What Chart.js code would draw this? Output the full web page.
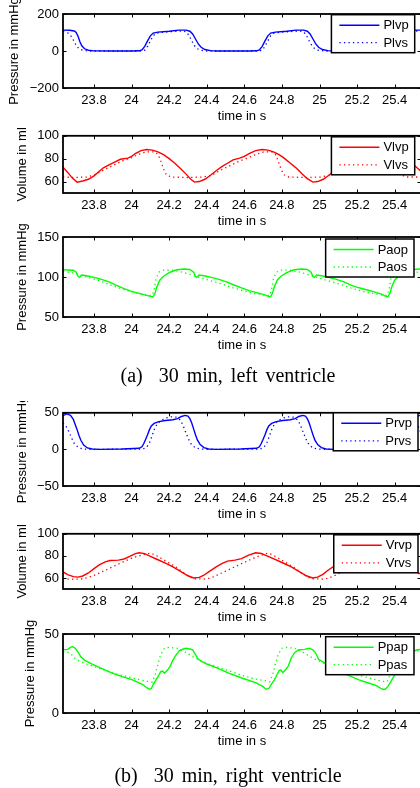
<!DOCTYPE html>
<html>
<head>
<meta charset="utf-8">
<script src="https://cdn.jsdelivr.net/npm/chart.js@4"></script>
<style>
  html, body { margin: 0; padding: 0; background: #fff; }
  body { width: 420px; height: 788px; overflow: hidden; position: relative; }
  canvas { position: absolute; left: 0; }
  .cap { position: absolute; left: 0; width: 456px; text-align: center;
         font-family: "Liberation Serif", "Times New Roman", serif; font-size: 20px;
         word-spacing: 3px; color: #000; line-height: 22px; }
</style>
</head>
<body>
<canvas id="c1"></canvas>
<canvas id="c2"></canvas>
<canvas id="c3"></canvas>
<div class="cap" style="top:364px">(a)&nbsp; 30 min, left ventricle</div>
<canvas id="c4"></canvas>
<canvas id="c5"></canvas>
<canvas id="c6"></canvas>
<div class="cap" style="top:764px">(b)&nbsp; 30 min, right ventricle</div>
<script>
// time axis (s)
var xTicks = [23.8, 24, 24.2, 24.4, 24.6, 24.8, 25, 25.2, 25.4];
var xTickLabels = ['23.8', '24', '24.2', '24.4', '24.6', '24.8', '25', '25.2', '25.4'];

// y ticks per panel
var plvTicks = [-200, 0, 200];
var vlvTicks = [60, 80, 100];
var paoTicks = [50, 100, 150];
var prvTicks = [-50, 0, 50];
var vrvTicks = [60, 80, 100];
var ppaTicks = [0, 50];

// left ventricle pressure [t, mmHg]
var plvp = [[23.635,113],[23.67,112],[23.695,108],[23.705,100],[23.715,80],[23.725,50],[23.735,28],[23.75,12],[23.77,4],[23.80,0.5],[23.90,0],[24.00,0],[24.04,1],[24.055,6],[24.07,25],[24.085,55],[24.10,82],[24.115,97],[24.14,102],[24.20,107],[24.25,113],[24.29,113],[24.31,107],[24.325,92],[24.34,65],[24.355,38],[24.37,20],[24.39,8],[24.42,2],[24.45,0],
  [24.55,0],[24.625,0],[24.665,1],[24.68,6],[24.695,25],[24.71,55],[24.725,82],[24.74,97],[24.765,102],[24.825,107],[24.875,113],[24.915,113],[24.935,107],[24.95,92],[24.965,65],[24.98,38],[24.995,20],[25.015,8],[25.045,2],[25.075,0],
  [25.2,0],[25.25,0],[25.29,1],[25.305,6],[25.32,25],[25.335,55],[25.35,82],[25.365,97],[25.39,102],[25.45,107],[25.50,113],[25.54,113]];
var plvs = [[23.635,105],[23.66,98],[23.675,85],[23.69,60],[23.705,30],[23.72,12],[23.74,4],[23.77,0],[24.05,0],[24.07,5],[24.085,25],[24.10,55],[24.115,82],[24.13,96],[24.16,101],[24.22,105],[24.27,108],[24.29,104],[24.305,85],[24.32,55],[24.335,28],[24.35,12],[24.37,4],[24.40,0],
  [24.675,0],[24.695,5],[24.71,25],[24.725,55],[24.74,82],[24.755,96],[24.785,101],[24.845,105],[24.895,108],[24.915,104],[24.93,85],[24.945,55],[24.96,28],[24.975,12],[24.995,4],[25.025,0],
  [25.30,0],[25.32,5],[25.335,25],[25.35,55],[25.365,82],[25.38,96],[25.41,101],[25.47,105],[25.52,108],[25.54,104]];

// left ventricle volume [t, ml]
var vlvp = [[23.635,72.5],[23.66,68],[23.685,63],[23.71,59.5],[23.74,60.5],[23.77,62],[23.80,65],[23.825,68.5],[23.85,72],[23.88,74.5],[23.91,77],[23.94,79.5],[23.98,80.5],[24.0,82],[24.02,84.5],[24.05,87],[24.08,88],[24.11,87.5],[24.14,86],[24.17,83.5],[24.20,80],[24.23,76],[24.26,71.5],[24.29,66.5],[24.315,62],[24.335,59.5],
  [24.36,60],[24.39,62],[24.42,65.5],[24.45,69.5],[24.48,73],[24.51,76],[24.54,79],[24.575,80.5],[24.60,82],[24.625,84.5],[24.66,87],[24.695,88],[24.725,87.5],[24.755,86],[24.785,83.5],[24.815,80],[24.845,76],[24.875,72],[24.905,67],[24.935,62.5],[24.965,59.5],
  [24.99,60],[25.02,62],[25.05,65.5],[25.08,69.5],[25.11,73],[25.14,76],[25.17,79],[25.205,80.5],[25.23,82],[25.255,84.5],[25.29,87],[25.325,88],[25.355,87.5],[25.385,86],[25.415,83.5],[25.445,80],[25.475,77],[25.505,74],[25.54,69]];
var vlvs = [[23.635,64],[23.70,63.5],[23.76,64],[23.80,65.5],[23.85,70],[23.90,74],[23.95,78],[24.00,81],[24.04,84],[24.08,86],[24.12,86],[24.14,84],[24.155,78],[24.17,71],[24.185,66],[24.21,64],[24.30,63.5],
  [24.38,64],[24.425,65.5],[24.475,70],[24.525,74],[24.575,78],[24.625,81],[24.665,84],[24.705,86],[24.745,86],[24.765,84],[24.78,78],[24.795,71],[24.81,66],[24.835,64],[24.925,63.5],
  [25.005,64],[25.05,65.5],[25.10,70],[25.15,74],[25.20,78],[25.25,81],[25.29,84],[25.33,86],[25.37,86],[25.39,84],[25.405,78],[25.42,71],[25.435,66],[25.46,64],[25.54,64]];

// aortic pressure [t, mmHg]
var paop = [[23.635,109],[23.69,108.5],[23.705,106],[23.715,101],[23.722,99.5],[23.735,102.5],[23.76,101.5],[23.80,99.5],[23.84,97],[23.88,94],[23.92,89.5],[23.96,85.5],[24.00,82],[24.04,79.5],[24.08,77],[24.105,75.5],[24.115,75.5],[24.125,80],[24.135,88],[24.15,96],[24.17,101],[24.20,105.5],[24.24,109],[24.28,110],[24.31,109.5],[24.33,106],[24.34,100.5],[24.347,99.5],
  [24.36,102.5],[24.385,101.5],[24.425,99.5],[24.465,97],[24.505,94],[24.545,90],[24.585,86.5],[24.625,83],[24.665,80.5],[24.705,78],[24.73,75.5],[24.74,75.5],[24.75,80],[24.76,88],[24.775,96],[24.795,101],[24.825,105.5],[24.865,109],[24.905,110],[24.935,109.5],[24.955,106],[24.965,100.5],[24.972,99.5],
  [24.985,102.5],[25.01,101.5],[25.05,99.5],[25.09,97],[25.13,94],[25.17,89.5],[25.21,86.5],[25.25,84],[25.29,81.5],[25.33,78.5],[25.355,75.5],[25.365,75.5],[25.375,80],[25.385,88],[25.40,96],[25.42,101],[25.45,105.5],[25.49,109],[25.53,110],[25.54,110]];
var paos = [[23.635,107],[23.69,105],[23.72,103],[23.76,100],[23.80,97.5],[23.85,93.5],[23.90,89],[23.95,85],[24.00,81.5],[24.05,78.5],[24.09,77],[24.11,77],[24.12,84],[24.13,98],[24.145,106],[24.17,108.5],[24.22,108.5],[24.27,106],[24.30,104],
  [24.34,101],[24.39,97.5],[24.44,94],[24.49,90.5],[24.54,86.5],[24.59,83],[24.64,80],[24.69,78],[24.72,77],[24.735,77],[24.745,84],[24.755,98],[24.77,106],[24.795,108.5],[24.845,108.5],[24.895,106],[24.925,104],
  [24.965,101],[25.015,97.5],[25.065,94],[25.115,90.5],[25.165,86.5],[25.215,83],[25.265,80],[25.315,78],[25.345,77],[25.36,77],[25.37,84],[25.38,98],[25.395,106],[25.42,108.5],[25.47,108.5],[25.52,106],[25.54,105]];

// right ventricle pressure [t, mmHg]
var prvp = [[23.635,46],[23.655,48.5],[23.675,46.5],[23.69,41],[23.70,34],[23.71,27],[23.72,19],[23.73,12.5],[23.745,6],[23.765,2],[23.79,0.5],[23.83,0],[23.95,0.5],[24.04,1.5],[24.055,3.5],[24.065,8],[24.075,14],[24.085,20],[24.095,27],[24.105,32],[24.12,35.5],[24.145,38],[24.18,39.5],[24.22,40.5],[24.245,42],[24.265,45],[24.285,46.5],[24.30,45.5],[24.31,42],[24.32,36],[24.33,28],[24.34,20],[24.35,13],[24.365,6.5],[24.385,2.5],[24.41,0.5],[24.45,0],
  [24.58,0.5],[24.665,1.5],[24.68,3.5],[24.69,8],[24.70,14],[24.71,20],[24.72,27],[24.73,32],[24.745,35.5],[24.77,38],[24.805,39.5],[24.845,40.5],[24.87,42],[24.89,45],[24.91,46.5],[24.925,45.5],[24.935,42],[24.945,36],[24.955,28],[24.965,20],[24.975,13],[24.99,6.5],[25.01,2.5],[25.035,0.5],[25.075,0],
  [25.205,0.5],[25.29,1.5],[25.305,3.5],[25.315,8],[25.325,14],[25.335,20],[25.345,27],[25.355,32],[25.37,35.5],[25.395,38],[25.43,39.5],[25.47,40.5],[25.495,42],[25.515,45],[25.535,46.5],[25.54,46.5]];
var prvs = [[23.635,36],[23.65,32],[23.665,25],[23.68,16],[23.695,8],[23.715,3],[23.74,0.5],[23.78,0],[24.06,0.5],[24.08,3],[24.095,9],[24.105,16],[24.115,23],[24.125,30],[24.14,36],[24.16,40],[24.185,43],[24.21,44.5],[24.24,44],[24.26,40],[24.275,32],[24.29,22],[24.305,13],[24.32,6],[24.34,2],[24.365,0.5],[24.40,0],
  [24.685,0.5],[24.705,3],[24.72,9],[24.73,16],[24.74,23],[24.75,30],[24.765,36],[24.785,40],[24.81,43],[24.835,44.5],[24.865,44],[24.885,40],[24.90,32],[24.915,22],[24.93,13],[24.945,6],[24.965,2],[24.99,0.5],[25.025,0],
  [25.31,0.5],[25.33,3],[25.345,9],[25.355,16],[25.365,23],[25.375,30],[25.39,36],[25.41,40],[25.435,43],[25.46,44.5],[25.49,44],[25.51,40],[25.525,32],[25.54,22]];

// right ventricle volume [t, ml]
var vrvp = [[23.635,65.5],[23.66,63],[23.69,61.2],[23.715,60.8],[23.74,61.8],[23.77,64.5],[23.80,68.5],[23.83,72],[23.86,74.5],[23.885,75.8],[23.93,76.2],[23.96,77.2],[23.99,79.5],[24.02,82],[24.04,82.8],[24.07,82],[24.10,79.5],[24.14,76.5],[24.18,73.5],[24.22,70],[24.26,66],[24.30,62],[24.33,60],
  [24.36,60.5],[24.385,62.5],[24.41,65.5],[24.45,70],[24.48,73],[24.51,75.2],[24.55,76.2],[24.585,77.5],[24.62,80.5],[24.66,82.8],[24.69,82.2],[24.72,80],[24.76,77],[24.80,74],[24.85,70],[24.89,66],[24.93,62],[24.963,60],
  [24.99,60.8],[25.02,63.5],[25.045,67],[25.08,71],[25.11,74],[25.14,75.8],[25.18,76.2],[25.21,77.5],[25.25,80.5],[25.29,82.8],[25.32,82.2],[25.35,80],[25.39,77],[25.43,74],[25.48,69.5],[25.52,65],[25.54,63.5]];
var vrvs = [[23.635,59.5],[23.66,59],[23.73,59],[23.77,60.5],[23.81,63],[23.86,67],[23.91,71],[23.96,75],[24.01,78.5],[24.06,81],[24.10,82.5],[24.125,81],[24.15,78.5],[24.185,75],[24.24,69.5],[24.29,63],[24.33,59.2],[24.40,59],
  [24.435,61],[24.48,64.5],[24.53,68.5],[24.58,72.5],[24.63,76.5],[24.68,80],[24.725,82.5],[24.75,81],[24.775,78.5],[24.81,75],[24.865,69.5],[24.915,63],[24.955,59.2],[25.03,59],
  [25.065,61],[25.11,64.5],[25.16,68.5],[25.21,72.5],[25.26,76.5],[25.31,80],[25.355,82.5],[25.38,81],[25.405,78.5],[25.44,75],[25.495,69.5],[25.54,62]];

// pulmonary artery pressure [t, mmHg]
var ppap = [[23.635,40],[23.66,40.3],[23.675,41.5],[23.685,42],[23.70,41],[23.715,38.5],[23.73,35.5],[23.75,33.5],[23.79,31],[23.84,28.3],[23.90,25.1],[23.95,23],[24.005,21],[24.06,18],[24.08,16],[24.095,15],[24.105,15.5],[24.115,18],[24.13,21],[24.145,24],[24.155,26.2],[24.165,26.5],[24.175,25.2],[24.19,27],[24.205,29.5],[24.22,33.5],[24.235,36.5],[24.255,39.5],[24.275,40.5],[24.29,41],[24.31,40.5],[24.325,40],[24.34,37],[24.355,34],
  [24.375,32.5],[24.40,31],[24.45,28.7],[24.52,25.1],[24.59,22],[24.66,19.2],[24.70,16.7],[24.715,15],[24.73,15.5],[24.745,18.5],[24.76,21],[24.775,24.5],[24.786,27],[24.795,27.2],[24.805,25.5],[24.82,27.5],[24.835,30],[24.85,35],[24.87,38.5],[24.89,40],[24.92,40.3],[24.945,41],[24.965,40],[24.98,37.8],[24.995,34],
  [25.015,32.5],[25.05,30],[25.105,26.5],[25.16,23.5],[25.21,21],[25.26,19],[25.30,17.5],[25.335,15],[25.35,15],[25.365,17],[25.38,20],[25.395,23],[25.41,26],[25.42,27.5],[25.43,26.5],[25.445,28],[25.46,31.5],[25.48,36],[25.50,39],[25.52,40],[25.54,40.3]];
var ppas = [[23.635,38.5],[23.66,38.5],[23.68,37],[23.70,34.5],[23.72,33],[23.76,31],[23.81,29],[23.86,27],[23.91,25],[23.96,23.5],[24.01,22],[24.06,20.5],[24.11,19.5],[24.125,24],[24.14,31],[24.155,37],[24.175,41],[24.20,41.5],[24.24,41],[24.28,39],[24.32,36],
  [24.36,33.5],[24.41,31],[24.46,29],[24.51,27],[24.56,25],[24.61,23],[24.66,21.5],[24.71,20.5],[24.735,19.8],[24.75,24],[24.765,31],[24.78,37],[24.80,41],[24.825,41.5],[24.865,41],[24.905,39],[24.945,36],
  [24.985,33.5],[25.035,31],[25.085,29],[25.135,27],[25.185,25],[25.235,23],[25.285,21.5],[25.335,20],[25.36,19.8],[25.375,24],[25.39,31],[25.405,37],[25.425,41],[25.45,41.5],[25.49,41],[25.53,39],[25.54,38.5]];

Chart.defaults.font.family = '"Liberation Sans", Arial, sans-serif';
Chart.defaults.font.size = 13;
Chart.defaults.color = '#000';

// box, inward ticks and a MATLAB style legend inside the axes
var matlabAxes = {
  id: 'matlabAxes',
  afterDraw: function(chart, args, opts) {
    var ctx = chart.ctx, a = chart.chartArea;
    var xs = chart.scales.x, ys = chart.scales.y;
    ctx.save();
    ctx.strokeStyle = '#000';
    ctx.lineWidth = 1;
    ctx.beginPath();
    xs.ticks.forEach(function(t) {
      var px = Math.round(xs.getPixelForValue(t.value)) + 0.5;
      ctx.moveTo(px, a.bottom); ctx.lineTo(px, a.bottom - 3.5);
      ctx.moveTo(px, a.top); ctx.lineTo(px, a.top + 3.5);
    });
    ys.ticks.forEach(function(t) {
      var py = Math.round(ys.getPixelForValue(t.value)) + 0.5;
      ctx.moveTo(a.left, py); ctx.lineTo(a.left + 3.5, py);
      ctx.moveTo(a.right, py); ctx.lineTo(a.right - 3.5, py);
    });
    ctx.stroke();
    ctx.lineWidth = 1.8;
    ctx.strokeRect(a.left, a.top, a.right - a.left, a.bottom - a.top);

    // legend
    var sets = chart.data.datasets;
    ctx.font = '13px "Liberation Sans", Arial, sans-serif';
    var tw = Math.max.apply(null, sets.map(function(d) { return ctx.measureText(d.label).width; }));
    var w = 8 + 40 + 4 + tw + 6, h = 38;
    var x0 = opts.right - w, y0 = a.top + opts.top;
    ctx.fillStyle = '#fff';
    ctx.fillRect(x0, y0, w, h);
    ctx.lineWidth = 1.5;
    ctx.strokeRect(x0, y0, w, h);
    sets.forEach(function(d, i) {
      var yy = y0 + 10.5 + i * 17.5;
      ctx.strokeStyle = d.borderColor;
      ctx.lineWidth = d.borderWidth;
      ctx.setLineDash(d.borderDash || []);
      ctx.beginPath();
      ctx.moveTo(x0 + 8, yy); ctx.lineTo(x0 + 48, yy);
      ctx.stroke();
      ctx.setLineDash([]);
      ctx.fillStyle = '#000';
      ctx.textBaseline = 'middle';
      ctx.textAlign = 'left';
      ctx.fillText(d.label, x0 + 52, yy + 0.5);
    });
    ctx.restore();
  }
};

function fmt(v) {
  return String(v).replace('-', '\u2212');
}

function makePanel(id, top, height, padTop, padLeft, yMin, yMax, yTicks, yTitle, color, labels, solid, dotted, legendRight, legendTop) {
  var cv = document.getElementById(id);
  cv.width = 425;
  cv.height = height;
  cv.style.top = top + 'px';
  return new Chart(cv, {
    type: 'line',
    data: {
      datasets: [{
        label: labels[0],
        data: solid,
        borderColor: color,
        borderWidth: 1.4,
        pointRadius: 0,
        tension: 0
      }, {
        label: labels[1],
        data: dotted,
        borderColor: color,
        borderWidth: 1.3,
        borderDash: [1.3, 3.2],
        pointRadius: 0,
        tension: 0
      }]
    },
    options: {
      responsive: false,
      animation: false,
      events: [],
      layout: { padding: { top: padTop, left: padLeft, right: 4, bottom: 0 } },
      scales: {
        x: {
          type: 'linear',
          min: 23.635,
          max: 25.54,
          grid: { display: false, drawTicks: false },
          border: { display: false },
          afterBuildTicks: function(s) { s.ticks = xTicks.map(function(v) { return { value: v }; }); },
          afterFit: function(s) { s.height = 36; },
          ticks: {
            padding: 5,
            maxRotation: 0,
            autoSkip: false,
            callback: function(v, i) { return xTickLabels[i]; }
          },
          title: { display: true, text: 'time in s', padding: 0 }
        },
        y: {
          min: yMin,
          max: yMax,
          grid: { display: false, drawTicks: false },
          border: { display: false },
          afterBuildTicks: function(s) { s.ticks = yTicks.map(function(v) { return { value: v }; }); },
          afterFit: function(s) { s.width = 63 - padLeft; },
          ticks: {
            padding: 4,
            callback: function(v, i) { return fmt(yTicks[i]); }
          },
          title: { display: true, text: yTitle, padding: 0 }
        }
      },
      plugins: {
        legend: { display: false },
        tooltip: { enabled: false },
        matlabAxes: { right: legendRight, top: legendTop }
      }
    },
    plugins: [matlabAxes]
  });
}

makePanel('c1', 0, 124, 14, 7, -200, 200, plvTicks, 'Pressure in mmHg', '#0000ff', ['Plvp', 'Plvs'], plvp, plvs, 414.7, 0.7);
makePanel('c2', 124, 105, 9, 15, 50, 100, vlvTicks, 'Volume in ml', '#ff0000', ['Vlvp', 'Vlvs'], vlvp, vlvs, 414.7, 1);
makePanel('c3', 215, 138, 22, 15, 50, 150, paoTicks, 'Pressure in mmHg', '#00ff00', ['Paop', 'Paos'], paop, paos, 414, 2);
makePanel('c4', 401, 121, 11, 15, -50, 50, prvTicks, 'Pressure in mmHg', '#0000ff', ['Prvp', 'Prvs'], prvp, prvs, 418, 0);
makePanel('c5', 522, 103, 7, 15, 50, 100, vrvTicks, 'Volume in ml', '#ff0000', ['Vrvp', 'Vrvs'], vrvp, vrvs, 418, 1);
makePanel('c6', 612, 137, 22, 23, 0, 50, ppaTicks, 'Pressure in mmHg', '#00ff00', ['Ppap', 'Ppas'], ppap, ppas, 414, 2.7);
</script>
</body>
</html>
